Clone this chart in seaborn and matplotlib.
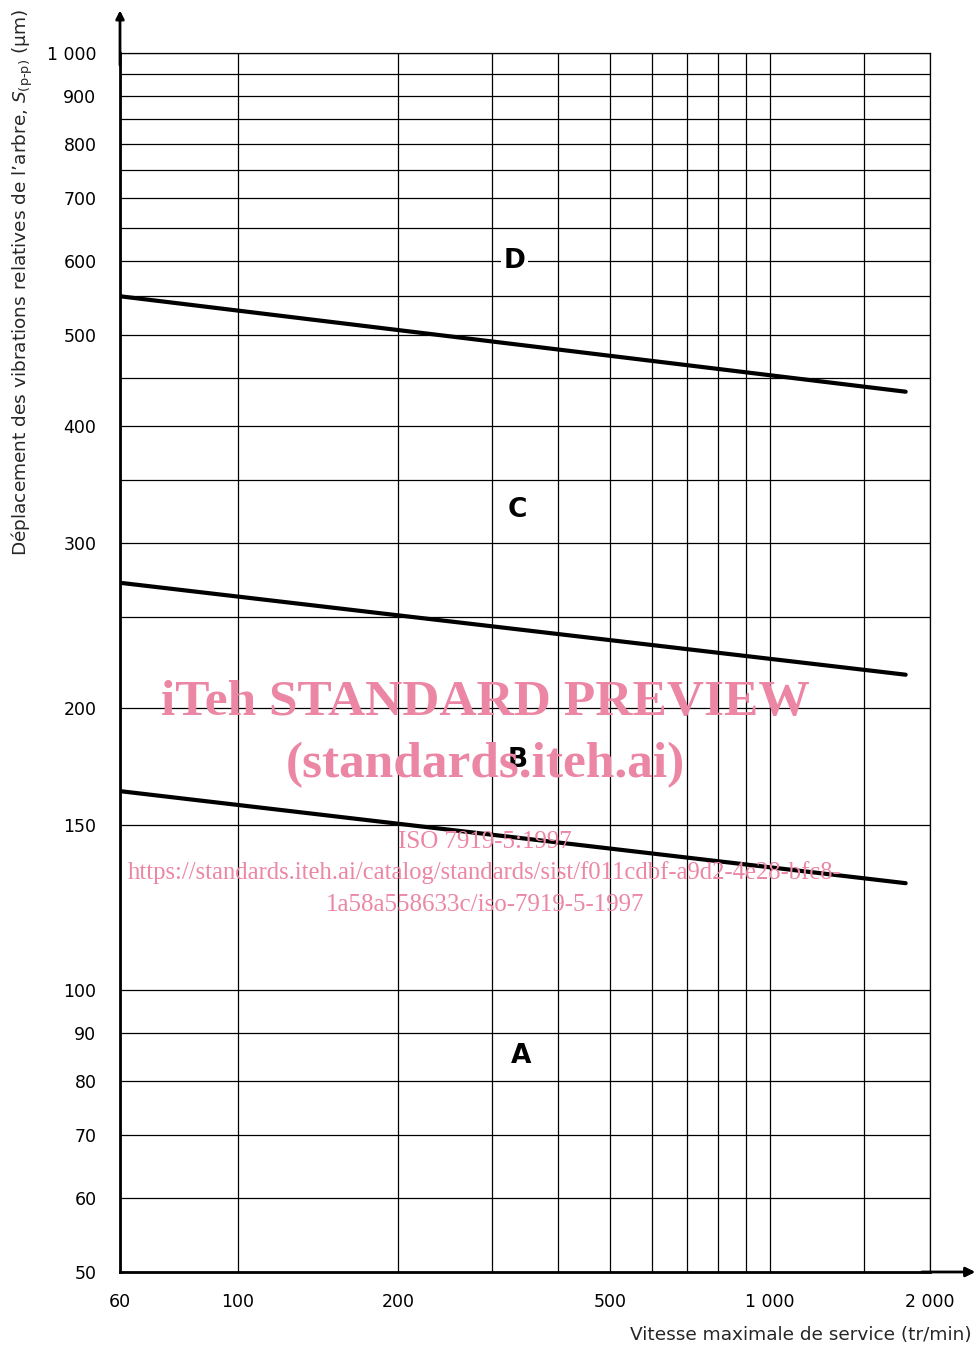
import numpy as np
import pandas as pd
import matplotlib
matplotlib.use("Agg")
import matplotlib.pyplot as plt
import seaborn as sns
from matplotlib.ticker import FixedLocator, FixedFormatter, NullLocator

# ---------------- data ----------------
speed_ends = [60, 1800]                 # tr/min
bound_DC = [550, 435]                   # µm
bound_CB = [272, 217]
bound_BA = [163, 130]
boundary_names = ["D/C", "C/B", "B/A"]

x_grid = [60, 100, 200, 300, 400, 500, 600, 700, 800, 900, 1000, 1500, 2000]
x_labels = ["60", "100", "200", "", "", "500", "", "", "", "", "1 000", "", "2 000"]
y_grid = [50, 60, 70, 80, 90, 100, 150, 200, 250, 300, 350, 400, 450, 500,
          550, 600, 650, 700, 750, 800, 850, 900, 950, 1000]
y_labels = ["50", "60", "70", "80", "90", "100", "150", "200", "", "300", "", "400",
            "", "500", "", "600", "", "700", "", "800", "", "900", "", "1 000"]

zone_names = ["D", "C", "B", "A"]
zone_speed = [331, 335, 336, 341]
zone_disp = [600, 325, 176, 85]

df = pd.DataFrame({
    "speed": speed_ends * 3,
    "disp": bound_DC + bound_CB + bound_BA,
    "boundary": [n for n in boundary_names for _ in speed_ends],
})

# ---------------- figure ----------------
sns.set_style("white")
plt.rcParams["font.family"] = ["DejaVu Sans"]
plt.rcParams["mathtext.fontset"] = "dejavusans"

fig = plt.figure(figsize=(9.77, 13.45), dpi=100)
ax = fig.add_axes([120 / 977, 1 - 1272 / 1345, 810 / 977, 1219 / 1345])

sns.lineplot(data=df, x="speed", y="disp", hue="boundary",
             palette=["black"] * 3, linewidth=3.0, legend=False, ax=ax, zorder=3)

ax.set_xscale("log")
ax.set_yscale("log")
ax.set_xlim(60, 2000)
ax.set_ylim(50, 1000)

ax.xaxis.set_major_locator(FixedLocator(x_grid))
ax.xaxis.set_major_formatter(FixedFormatter(x_labels))
ax.xaxis.set_minor_locator(NullLocator())
ax.yaxis.set_major_locator(FixedLocator(y_grid))
ax.yaxis.set_major_formatter(FixedFormatter(y_labels))
ax.yaxis.set_minor_locator(NullLocator())

ax.tick_params(axis="both", which="major", direction="out", length=8, width=1.1,
               color="black", labelsize=12.5, labelcolor="black")
ax.tick_params(axis="x", pad=7)
ax.tick_params(axis="y", pad=9)
ax.grid(True, which="major", color="black", linewidth=0.9)
ax.set_axisbelow(True)

for side in ["left", "bottom"]:
    ax.spines[side].set_linewidth(2.0)
    ax.spines[side].set_color("black")
for side in ["top", "right"]:
    ax.spines[side].set_linewidth(0.9)
    ax.spines[side].set_color("black")

ax.set_xlabel("")
ax.set_ylabel("")

# axis arrows
ax.annotate("", xy=(1.056, 0), xycoords="axes fraction", xytext=(0.99, 0),
            arrowprops=dict(arrowstyle="-|>", lw=2, color="black", mutation_scale=14,
                            shrinkA=0, shrinkB=0), annotation_clip=False)
ax.annotate("", xy=(0, 1.035), xycoords="axes fraction", xytext=(0, 0.99),
            arrowprops=dict(arrowstyle="-|>", lw=2, color="black", mutation_scale=12,
                            shrinkA=0, shrinkB=0), annotation_clip=False)

# zone letters
for name, sx, sy in zip(zone_names, zone_speed, zone_disp):
    ax.text(sx, sy, name, fontsize=19, fontweight="bold", ha="center", va="center",
            color="black", zorder=5,
            bbox=dict(facecolor="white", edgecolor="none", pad=1.5))

# axis titles
fig.text(0.995, 1 - 1335 / 1345, "Vitesse maximale de service (tr/min)",
         ha="right", va="center", fontsize=13.3)
fig.text(22 / 977, 1 - 9 / 1345,
         "Déplacement des vibrations relatives de l’arbre, $S_{(\\mathrm{p\\text{-}p})}$ (µm)",
         rotation=90, ha="center", va="top", fontsize=13.3)

# watermark
pink = "#ec86a5"
wm = dict(ha="center", va="center", color=pink, family=["Liberation Serif", "DejaVu Serif"],
          zorder=10)
fig.text(485 / 977, 1 - 703 / 1345, "iTeh STANDARD PREVIEW", fontsize=37,
         fontweight="bold", **wm)
fig.text(485 / 977, 1 - 765 / 1345, "(standards.iteh.ai)", fontsize=37,
         fontweight="bold", **wm)
fig.text(485 / 977, 1 - 842 / 1345, "ISO 7919-5:1997", fontsize=18, **wm)
fig.text(485 / 977, 1 - 873 / 1345,
         "https://standards.iteh.ai/catalog/standards/sist/f011cdbf-a9d2-4e28-bfc8-",
         fontsize=17.7, **wm)
fig.text(485 / 977, 1 - 905 / 1345, "1a58a558633c/iso-7919-5-1997", fontsize=18, **wm)

fig.savefig("out.png", dpi=100, facecolor="white")
